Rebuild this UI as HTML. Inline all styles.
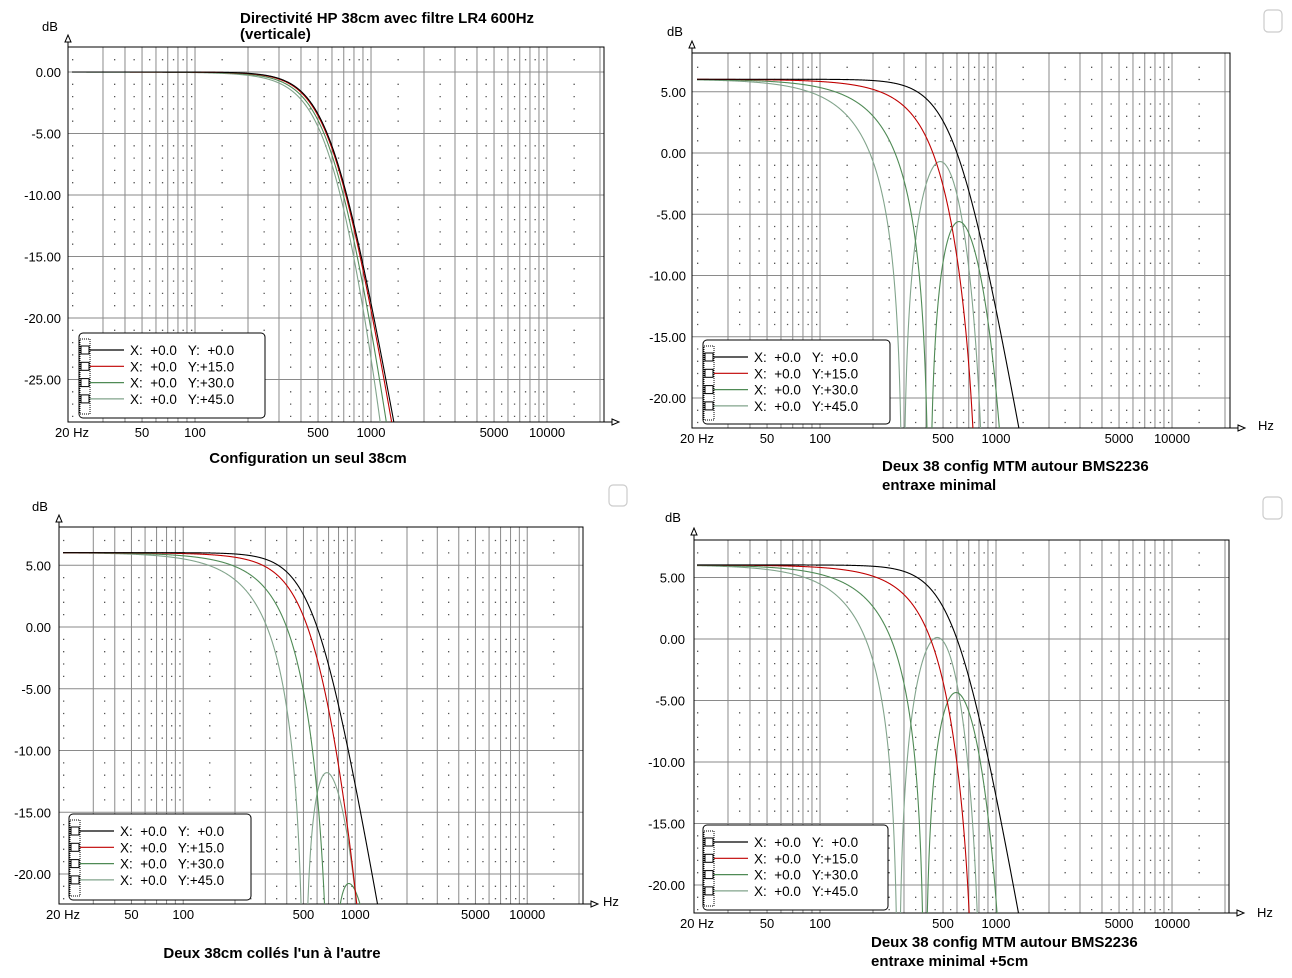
<!DOCTYPE html>
<html><head><meta charset="utf-8">
<style>
html,body{margin:0;padding:0;background:#fff;}
svg{display:block;font-family:"Liberation Sans",Arial,sans-serif;}
</style></head>
<body>
<svg id="s" width="1292" height="978" viewBox="0 0 1292 978" xmlns="http://www.w3.org/2000/svg">
<rect width="1292" height="978" fill="#fff"/>
<g font-weight="bold" font-size="15" fill="#000">
<text x="240" y="23">Directivité HP 38cm avec filtre LR4 600Hz</text>
<text x="240" y="39">(verticale)</text>
<text x="308" y="463" text-anchor="middle">Configuration un seul 38cm</text>
<text x="882" y="471">Deux 38 config MTM autour BMS2236</text>
<text x="882" y="490">entraxe minimal</text>
<text x="272" y="958" text-anchor="middle">Deux 38cm collés l'un à l'autre</text>
<text x="871" y="947">Deux 38 config MTM autour  BMS2236</text>
<text x="871" y="966">entraxe minimal +5cm</text>
</g>
<g fill="none" stroke="#ccc" stroke-width="1.2">
<rect x="1264" y="10" width="18" height="22" rx="4"/>
<rect x="609" y="485" width="18" height="21" rx="4"/>
<rect x="1263" y="497" width="19" height="22" rx="4"/>
</g>
<g id="charts"></g>
</svg>
<script>
(function(){
var NS="http://www.w3.org/2000/svg";
var root=document.getElementById("charts");
function el(n,a,p){var e=document.createElementNS(NS,n);for(var k in a)e.setAttribute(k,a[k]);(p||root).appendChild(e);return e;}
function txt(x,y,s,a,p){var t=el("text",Object.assign({x:x,y:y,"font-size":13,fill:"#000"},a||{}),p);t.textContent=s;return t;}
function piston(x){var s=0,t=1,h=x/2,h2=h*h;for(var k=0;k<40;k++){if(k>0)t*=-h2/(k*(k+1));s+=t;}return s;}
var charts=[
 {L:68,R:604,T:47,B:422,x20:72,dec:176,y0:72,ppd:12.3,top:2,bot:-28,pair:0,a:0.15,ticks:[0,-5,-10,-15,-20,-25],lx:61,leg:[79,333,265,418],hz:false,db:[42,31],redmax:3000},
 {L:692,R:1230,T:53,B:428,x20:697,dec:176,y0:153,ppd:12.25,top:8,bot:-22,pair:0.82,a:0.22,ticks:[5,0,-5,-10,-15,-20],lx:686,leg:[703,340,890,424],hz:[1258,430],db:[667,36],redmax:800},
 {L:59,R:583,T:527,B:904,x20:63,dec:172,y0:627,ppd:12.35,top:8,bot:-22,pair:0.48,a:0.2,ticks:[5,0,-5,-10,-15,-20],lx:51,leg:[69,814,251,900],hz:[603,906],db:[32,511],fmax:1100,redmax:1050},
 {L:694,R:1229,T:540,B:913,x20:697,dec:176,y0:639,ppd:12.3,top:8,bot:-22,pair:0.87,a:0.22,ticks:[5,0,-5,-10,-15,-20],lx:685,leg:[703,825,888,910],hz:[1257,917],db:[665,522],redmax:760}
];
var series=[{th:0,c:"#000000"},{th:15,c:"#c00000"},{th:30,c:"#4f8a55"},{th:45,c:"#82a48c"}];
var labs=["X:  +0.0   Y:  +0.0","X:  +0.0   Y:+15.0","X:  +0.0   Y:+30.0","X:  +0.0   Y:+45.0"];
charts.forEach(function(C,ci){
 var g=el("g",{});
 function X(f){return C.x20+C.dec*Math.log10(f/20);}
 function Y(d){return C.y0-d*C.ppd;}
 var vx=[];
 [10,100,1000,10000].forEach(function(m){for(var i=1;i<10;i++){var f=m*i;if(f>20&&f<=20000)vx.push(X(f));}});
 vx.sort(function(a,b){return a-b;});
 vx.forEach(function(x){el("line",{x1:x,y1:C.T,x2:x,y2:C.B,stroke:"#8a8a8a","stroke-width":1},g);});
 for(var d=Math.ceil(C.bot/5)*5;d<=C.top;d+=5){var y=Y(d);if(y>C.T&&y<C.B)el("line",{x1:C.L,y1:y,x2:C.R,y2:y,stroke:"#8a8a8a","stroke-width":1},g);}
 var cols=[X(20)];
 for(var i=0;i<vx.length-1;i++){cols.push((vx[i]+vx[i+1])/2);}
 var dp="";
 for(var dd=Math.ceil(C.bot);dd<=Math.floor(C.top);dd++){if(dd%5===0)continue;var yy=Y(dd);if(yy<=C.T+2||yy>=C.B-2)continue;
  cols.forEach(function(x){if(x>C.L&&x<C.R)dp+="M"+x.toFixed(1)+" "+yy.toFixed(1)+"h1.3";});}
 el("path",{d:dp,stroke:"#555","stroke-width":1.3,fill:"none"},g);
 el("rect",{x:C.L,y:C.T,width:C.R-C.L,height:C.B-C.T,fill:"none",stroke:"#000","stroke-width":1},g);
 el("line",{x1:C.L,y1:C.T,x2:C.L,y2:C.T-8,stroke:"#000"},g);
 el("path",{d:"M"+(C.L-3)+" "+(C.T-5)+"L"+C.L+" "+(C.T-12)+"L"+(C.L+3)+" "+(C.T-5)+"Z",fill:"#fff",stroke:"#000"},g);
 el("line",{x1:C.R,y1:C.B,x2:C.R+10,y2:C.B,stroke:"#000"},g);
 el("path",{d:"M"+(C.R+8)+" "+(C.B-3)+"L"+(C.R+15)+" "+C.B+"L"+(C.R+8)+" "+(C.B+3)+"Z",fill:"#fff",stroke:"#000"},g);
 C.ticks.forEach(function(t){txt(C.lx,Y(t)+5,t.toFixed(2),{"text-anchor":"end"},g);});
 [[20,"20 Hz"],[50,"50"],[100,"100"],[500,"500"],[1000,"1000"],[5000,"5000"],[10000,"10000"]].forEach(function(p){txt(X(p[0]),C.B+15,p[1],{"text-anchor":"middle"},g);});
 txt(C.db[0],C.db[1],"dB",{},g);
 if(C.hz)txt(C.hz[0],C.hz[1],"Hz",{},g);
 var cid="clip"+ci;
 var cp=el("clipPath",{id:cid},g);el("rect",{x:C.L,y:C.T,width:C.R-C.L,height:C.B-C.T},cp);
 var cg=el("g",{"clip-path":"url(#"+cid+")"},g);
 for(var si=series.length-1;si>=0;si--){
  var S=series[si];var s=Math.sin(S.th*Math.PI/180);var pts=[];
  var fmax=3000;
  if(si===1)fmax=C.redmax;else if(C.fmax&&si>1)fmax=C.fmax;
  for(var n=0;n<=1400;n++){var f=20*Math.pow(fmax/20,n/1400);
   var k=2*Math.PI*f/343;
   var m=1/(1+Math.pow(f/600,4));
   m*=Math.abs(piston(k*C.a*s));
   if(C.pair)m*=2*Math.abs(Math.cos(Math.PI*f*C.pair*s/343));
   var db=20*Math.log10(Math.max(m,1e-4));
   pts.push(X(f).toFixed(2)+","+Math.min(Y(db),C.B+50).toFixed(2));}
  el("polyline",{points:pts.join(" "),fill:"none",stroke:S.c,"stroke-width":1.1},cg);
 }
 var L=C.leg;
 el("rect",{x:L[0],y:L[1],width:L[2]-L[0],height:L[3]-L[1],rx:4,fill:"#fff",stroke:"#000","stroke-width":1},g);
 el("rect",{x:L[0]+1,y:L[1]+6,width:10,height:L[3]-L[1]-10,fill:"none",stroke:"#000","stroke-dasharray":"1 1"},g);
 for(var r=0;r<4;r++){var ry=L[1]+17+r*16.3;
  el("rect",{x:L[0]+2,y:ry-4,width:8,height:8,fill:"#fff",stroke:"#000"},g);
  el("line",{x1:L[0]+11,y1:ry,x2:L[0]+45,y2:ry,stroke:series[r].c,"stroke-width":1.2},g);
  var t=txt(L[0]+51,ry+5,labs[r],{"font-size":13.5},g);t.setAttribute("style","white-space:pre");
 }
});
})();
</script>
</body></html>
